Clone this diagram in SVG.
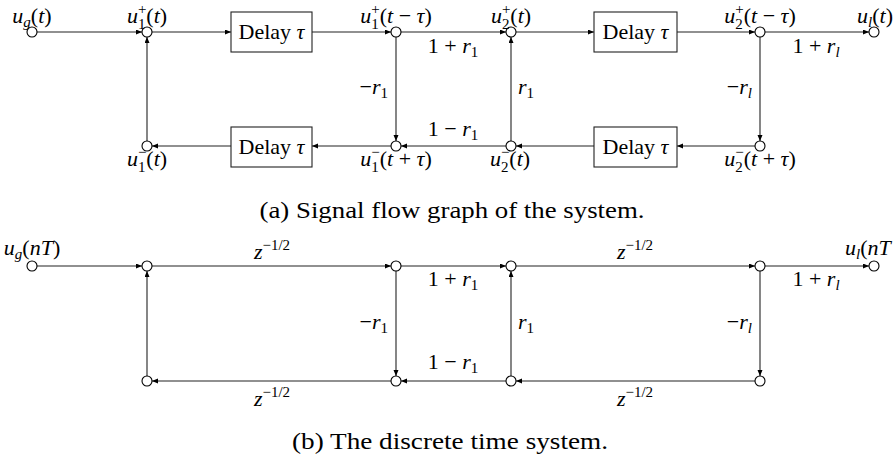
<svg xmlns="http://www.w3.org/2000/svg" width="894" height="462" viewBox="0 0 894 462">
<style>
text{font-family:"Liberation Serif","Times New Roman",serif;font-size:22px;fill:#000;text-anchor:middle}
.i{font-style:italic}
.s{font-size:15px}
.cap{font-size:23px}
.e{text-anchor:end}
.st{text-anchor:start}
.ln{fill:none;stroke:#222;stroke-width:1.1;marker-end:url(#ah)}
.nd{fill:#fff;stroke:#000;stroke-width:1.1}
.bx{fill:#fff;stroke:#222;stroke-width:1.1}
</style>
<defs>
<marker id="ah" markerUnits="userSpaceOnUse" markerWidth="7" markerHeight="6" refX="6" refY="2.5" orient="auto">
<path d="M0,0 L6,2.5 L0,5 z" fill="#000"/>
</marker>
</defs>

<g id="connectors">
<path class="ln" d="M37,32 H142"/>
<path class="ln" d="M152,32 H231"/>
<path class="ln" d="M312,32 H391"/>
<path class="ln" d="M401,32 H506"/>
<path class="ln" d="M516,32 H594"/>
<path class="ln" d="M677,32 H755"/>
<path class="ln" d="M765,32 H869"/>
<path class="ln" d="M760,37 V141"/>
<path class="ln" d="M755,146 H677"/>
<path class="ln" d="M594,146 H516"/>
<path class="ln" d="M511,141 V37"/>
<path class="ln" d="M506,146 H401"/>
<path class="ln" d="M396,37 V141"/>
<path class="ln" d="M391,146 H312"/>
<path class="ln" d="M231,146 H152"/>
<path class="ln" d="M147,141 V37"/>

<path class="ln" d="M37,266 H142"/>
<path class="ln" d="M152,266 H391"/>
<path class="ln" d="M401,266 H506"/>
<path class="ln" d="M516,266 H755"/>
<path class="ln" d="M765,266 H869"/>
<path class="ln" d="M760,271 V376"/>
<path class="ln" d="M755,381 H516"/>
<path class="ln" d="M511,376 V271"/>
<path class="ln" d="M506,381 H401"/>
<path class="ln" d="M396,271 V376"/>
<path class="ln" d="M391,381 H152"/>
<path class="ln" d="M147,376 V271"/>
</g>

<!-- (a) nodes -->
<g id="a_ug"><circle class="nd" cx="32" cy="32" r="5"/>
<text x="32" y="23"><tspan class="i">u</tspan><tspan class="i s" dy="4">g</tspan><tspan dy="-4">(</tspan><tspan class="i">t</tspan>)</text></g>
<g id="a_u1p"><circle class="nd" cx="147" cy="32" r="5"/>
<text x="147" y="23"><tspan class="i">u</tspan><tspan class="s" dy="6">1</tspan><tspan class="s" dx="-7.5" dy="-15">+</tspan><tspan dy="9">(</tspan><tspan class="i">t</tspan>)</text></g>
<g id="a_d1"><rect class="bx" x="231" y="12" width="81" height="40"/>
<text x="271.5" y="39">Delay <tspan class="i">τ</tspan></text></g>
<g id="a_u1pd"><circle class="nd" cx="396" cy="32" r="5"/>
<text x="396" y="23"><tspan class="i">u</tspan><tspan class="s" dy="6">1</tspan><tspan class="s" dx="-7.5" dy="-15">+</tspan><tspan dy="9">(</tspan><tspan class="i">t</tspan> − <tspan class="i">τ</tspan>)</text></g>
<g id="a_u2p"><circle class="nd" cx="511" cy="32" r="5"/>
<text x="511" y="23"><tspan class="i">u</tspan><tspan class="s" dy="6">2</tspan><tspan class="s" dx="-7.5" dy="-15">+</tspan><tspan dy="9">(</tspan><tspan class="i">t</tspan>)</text></g>
<g id="a_d2"><rect class="bx" x="594" y="12" width="83" height="40"/>
<text x="635.5" y="39">Delay <tspan class="i">τ</tspan></text></g>
<g id="a_u2pd"><circle class="nd" cx="760" cy="32" r="5"/>
<text x="760" y="23"><tspan class="i">u</tspan><tspan class="s" dy="6">2</tspan><tspan class="s" dx="-7.5" dy="-15">+</tspan><tspan dy="9">(</tspan><tspan class="i">t</tspan> − <tspan class="i">τ</tspan>)</text></g>
<g id="a_ul"><circle class="nd" cx="874" cy="32" r="5"/>
<text class="e" x="893" y="23"><tspan class="i">u</tspan><tspan class="i s" dy="4">l</tspan><tspan dy="-4">(</tspan><tspan class="i">t</tspan>)</text></g>

<g id="a_u1m"><circle class="nd" cx="147" cy="146" r="5"/>
<text x="147" y="166"><tspan class="i">u</tspan><tspan class="s" dy="6">1</tspan><tspan class="s" dx="-7.5" dy="-15">−</tspan><tspan dy="9">(</tspan><tspan class="i">t</tspan>)</text></g>
<g id="a_d3"><rect class="bx" x="231" y="127" width="81" height="40"/>
<text x="271.5" y="154">Delay <tspan class="i">τ</tspan></text></g>
<g id="a_u1md"><circle class="nd" cx="396" cy="146" r="5"/>
<text x="396" y="166"><tspan class="i">u</tspan><tspan class="s" dy="6">1</tspan><tspan class="s" dx="-7.5" dy="-15">−</tspan><tspan dy="9">(</tspan><tspan class="i">t</tspan> + <tspan class="i">τ</tspan>)</text></g>
<g id="a_u2m"><circle class="nd" cx="511" cy="146" r="5"/>
<text x="510" y="166"><tspan class="i">u</tspan><tspan class="s" dy="6">2</tspan><tspan class="s" dx="-7.5" dy="-15">−</tspan><tspan dy="9">(</tspan><tspan class="i">t</tspan>)</text></g>
<g id="a_d4"><rect class="bx" x="594" y="127" width="83" height="40"/>
<text x="635.5" y="154">Delay <tspan class="i">τ</tspan></text></g>
<g id="a_u2md"><circle class="nd" cx="760" cy="146" r="5"/>
<text x="760" y="166"><tspan class="i">u</tspan><tspan class="s" dy="6">2</tspan><tspan class="s" dx="-7.5" dy="-15">−</tspan><tspan dy="9">(</tspan><tspan class="i">t</tspan> + <tspan class="i">τ</tspan>)</text></g>

<g id="a_labels">
<text x="453" y="53">1 + <tspan class="i">r</tspan><tspan class="s" dy="4">1</tspan></text>
<text x="453" y="136">1 − <tspan class="i">r</tspan><tspan class="s" dy="4">1</tspan></text>
<text class="e" x="388" y="94">−<tspan class="i">r</tspan><tspan class="s" dy="4">1</tspan></text>
<text class="st" x="518" y="94"><tspan class="i">r</tspan><tspan class="s" dy="4">1</tspan></text>
<text class="e" x="752" y="94">−<tspan class="i">r</tspan><tspan class="i s" dy="4">l</tspan></text>
<text x="816" y="53">1 + <tspan class="i">r</tspan><tspan class="i s" dy="4">l</tspan></text>
<text class="cap" x="452" y="218" textLength="385" lengthAdjust="spacingAndGlyphs">(a) Signal flow graph of the system.</text>
</g>

<!-- (b) nodes -->
<g id="b_ug"><circle class="nd" cx="32" cy="266" r="5"/>
<text x="32" y="255"><tspan class="i">u</tspan><tspan class="i s" dy="4">g</tspan><tspan dy="-4">(</tspan><tspan class="i">nT</tspan>)</text></g>
<g id="b_n1"><circle class="nd" cx="147" cy="266" r="5"/></g>
<g id="b_n2"><circle class="nd" cx="396" cy="266" r="5"/></g>
<g id="b_n3"><circle class="nd" cx="511" cy="266" r="5"/></g>
<g id="b_n4"><circle class="nd" cx="760" cy="266" r="5"/></g>
<g id="b_ul"><circle class="nd" cx="874" cy="266" r="5"/>
<text class="st" x="845" y="255"><tspan class="i">u</tspan><tspan class="i s" dy="4">l</tspan><tspan dy="-4">(</tspan><tspan class="i">nT</tspan></text></g>
<g id="b_n5"><circle class="nd" cx="147" cy="381" r="5"/></g>
<g id="b_n6"><circle class="nd" cx="396" cy="381" r="5"/></g>
<g id="b_n7"><circle class="nd" cx="511" cy="381" r="5"/></g>
<g id="b_n8"><circle class="nd" cx="760" cy="381" r="5"/></g>

<g id="b_labels">
<text x="272" y="259"><tspan class="i">z</tspan><tspan class="s" dy="-9">−1/2</tspan></text>
<text x="635" y="259"><tspan class="i">z</tspan><tspan class="s" dy="-9">−1/2</tspan></text>
<text x="272" y="406"><tspan class="i">z</tspan><tspan class="s" dy="-9">−1/2</tspan></text>
<text x="635" y="406"><tspan class="i">z</tspan><tspan class="s" dy="-9">−1/2</tspan></text>
<text x="453" y="286">1 + <tspan class="i">r</tspan><tspan class="s" dy="4">1</tspan></text>
<text x="453" y="369">1 − <tspan class="i">r</tspan><tspan class="s" dy="4">1</tspan></text>
<text class="e" x="388" y="329">−<tspan class="i">r</tspan><tspan class="s" dy="4">1</tspan></text>
<text class="st" x="518" y="329"><tspan class="i">r</tspan><tspan class="s" dy="4">1</tspan></text>
<text class="e" x="752" y="329">−<tspan class="i">r</tspan><tspan class="i s" dy="4">l</tspan></text>
<text x="816" y="286">1 + <tspan class="i">r</tspan><tspan class="i s" dy="4">l</tspan></text>
<text class="cap" x="450" y="449" textLength="316" lengthAdjust="spacingAndGlyphs">(b) The discrete time system.</text>
</g>
</svg>
